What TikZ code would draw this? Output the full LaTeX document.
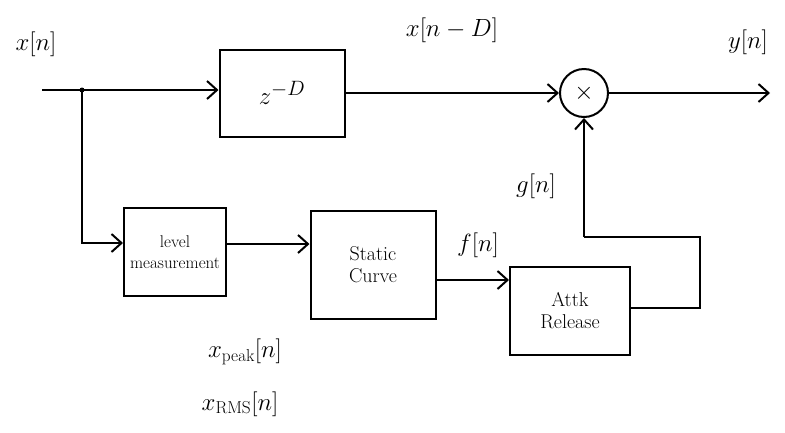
\documentclass[tikz,border=0pt]{standalone}
\usetikzlibrary{arrows.meta}
\begin{document}
\begin{tikzpicture}[x=1pt,y=-1pt,
  blk/.style={draw,line width=2pt,minimum width=#1,inner sep=2pt,align=center,
    font=\fontsize{20}{22}\selectfont},
  sig/.style={line width=2pt,-{Straight Barb[length=10pt,width=18pt]}},
  wire/.style={line width=2pt},
  lbl/.style={font=\fontsize{27}{30}\selectfont}]
\useasboundingbox (0,0) rectangle (785,432);
% blocks
\node[blk=125pt,minimum height=87pt] (delay) at (282,93) {\fontsize{30}{32}\selectfont $z^{-D}$};
\node[draw,circle,line width=2pt,minimum size=48pt,inner sep=0pt,font=\fontsize{30}{32}\selectfont] (mult) at (584,93) {$\times$};
\node[blk=102pt,minimum height=88pt,font=\fontsize{17}{21}\selectfont] (level) at (175,252) {level\\measurement};
\node[blk=125pt,minimum height=108pt] (curve) at (373,265) {Static\\Curve};
\node[blk=120pt,minimum height=88pt] (ar) at (570,311) {Attk\\Release};
% signal points
\coordinate (in) at (42,90);
\coordinate (split) at (82,90);
\coordinate (out) at (770,93);
\coordinate (fbA) at (700,308);
\coordinate (fbB) at (700,237);
\coordinate (fbC) at (584,237);
% forward path
\draw[wire] (in) -- (split);
\fill (split) circle (2.5pt);
\draw[sig] (split) -- (delay.west |- split);
\draw[sig] (delay.east |- mult) -- (mult.west);
\draw[sig] (mult.east) -- (out);
% side chain
\draw[sig] (split) |- (level.west |- 0,243);
\draw[sig] (level.east |- 0,244) -- (curve.west |- 0,244);
\draw[sig] (curve.east |- 0,280) -- (ar.west |- 0,280);
\draw[wire] (ar.east |- fbA) -- (fbA) -- (fbB) -- (fbC);
\draw[sig] (fbC) -- (mult.south);
% labels
\node[lbl] (lx) at (36,44) {$x[n]$};
\node[lbl] (lxd) at (452,30) {$x[n-D]$};
\node[lbl] (ly) at (748,42) {$y[n]$};
\node[lbl] (lg) at (536,186) {$g[n]$};
\node[lbl] (lf) at (478,245) {$f[n]$};
\node[lbl] (lpk) at (245,352) {$x_{\mathrm{peak}}[n]$};
\node[lbl] (lrms) at (240,404) {$x_{\mathrm{RMS}}[n]$};
\end{tikzpicture}
\end{document}
